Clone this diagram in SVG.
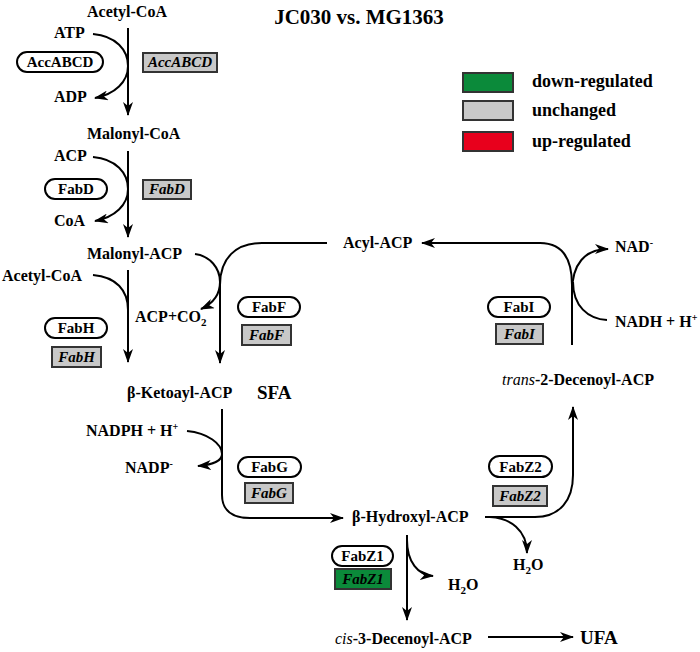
<svg xmlns="http://www.w3.org/2000/svg" width="700" height="652" viewBox="0 0 700 652">
<defs>
<marker id="ah" viewBox="0 0 14 10" refX="13" refY="5" markerWidth="14" markerHeight="10" orient="auto" markerUnits="userSpaceOnUse"><path d="M0,0 L14,5 L0,10 L4,5 z" fill="#000"/></marker>
<style>
text{font-family:"Liberation Serif","Times New Roman",serif;font-weight:bold;fill:#000;font-size:16px}
.t{font-size:21px}
.big{font-size:19px}
.leg{font-size:18px}
.en{font-size:15px}
.it{font-style:italic;font-size:15px}
.pill{fill:#fff;stroke:#000;stroke-width:2}
.box{fill:#c8c8c8;stroke:#333;stroke-width:2}
.down{fill:#0b8a3a;stroke:#333;stroke-width:2}
.up{fill:#e8001c;stroke:#333;stroke-width:2}
.c{fill:none;stroke:#000;stroke-width:2}
.a{marker-end:url(#ah)}
</style>
</defs>
<rect width="700" height="652" fill="#fff"/>
<g id="title"><text class="t" x="359" y="24" text-anchor="middle">JC030 vs. MG1363</text></g>
<g id="legend">
<rect class="down" x="463" y="73" width="50" height="19"/><text class="leg" x="532" y="87">down-regulated</text>
<rect class="box" x="463" y="101" width="50" height="19"/><text class="leg" x="532" y="116">unchanged</text>
<rect class="up" x="463" y="132" width="50" height="19"/><text class="leg" x="532" y="147">up-regulated</text>
</g>
<g id="connectors">
<path class="c a" d="M128,28 V115"/>
<path class="c a" d="M93,34 C116,36 128,50 128,66 C128,82 115,94 95,98"/>
<path class="c a" d="M128,151 V237"/>
<path class="c a" d="M93,157 C116,159 128,173 128,189 C128,205 115,217 95,221"/>
<path class="c a" d="M128,270 V362"/>
<path class="c" d="M93,275 C116,277 128,290 128,310"/>
<path class="c a" d="M195,254 C210,256 220,268 220,282 C220,296 212,304 201,309"/>
<path class="c a" d="M327,243 H262 C236,243 220,258 220,285 V363"/>
<path class="c a" d="M222,409 V495 C222,510 232,518 250,518 H343"/>
<path class="c a" d="M187,431 C208,433 222,444 222,454 C222,461 212,465 198,466"/>
<path class="c a" d="M485,517 H535 C560,517 573,500 573,475 V407"/>
<path class="c a" d="M490,517 C510,518 527,530 527,553"/>
<path class="c a" d="M407,535 V620"/>
<path class="c a" d="M407,540 C407,562 418,575 433,576"/>
<path class="c a" d="M488,637 H573"/>
<path class="c a" d="M572,345 V285 C572,258 562,243 540,243 H422"/>
<path class="c a" d="M572,292 C572,264 585,249 608,249"/>
<path class="c" d="M607,320 C588,319 573,306 573,282"/>
</g>
<g id="acetyl-coa"><text x="87" y="17">Acetyl-CoA</text></g>
<g id="atp"><text x="54" y="38">ATP</text></g>
<g id="adp"><text x="54" y="102">ADP</text></g>
<g id="accabcd"><rect class="pill" x="17" y="52" width="86" height="20" rx="10"/><text class="en" x="60" y="67" text-anchor="middle">AccABCD</text></g>
<g id="accabcd-gene"><rect class="box" x="143" y="53" width="74" height="19"/><text class="it" x="180" y="67" text-anchor="middle">AccABCD</text></g>
<g id="malonyl-coa"><text x="87" y="139">Malonyl-CoA</text></g>
<g id="acp"><text x="54" y="161">ACP</text></g>
<g id="coa"><text x="54" y="226">CoA</text></g>
<g id="fabd"><rect class="pill" x="45" y="179" width="62" height="20" rx="10"/><text class="en" x="76" y="194" text-anchor="middle">FabD</text></g>
<g id="fabd-gene"><rect class="box" x="143" y="180" width="48" height="19"/><text class="it" x="167" y="194" text-anchor="middle">FabD</text></g>
<g id="malonyl-acp"><text x="87" y="259">Malonyl-ACP</text></g>
<g id="acetyl-coa-2"><text x="2" y="281">Acetyl-CoA</text></g>
<g id="acp-co2"><text x="135" y="322">ACP+CO<tspan font-size="11" dy="4">2</tspan></text></g>
<g id="fabh"><rect class="pill" x="45" y="318" width="62" height="20" rx="10"/><text class="en" x="76" y="333" text-anchor="middle">FabH</text></g>
<g id="fabh-gene"><rect class="box" x="52" y="347" width="49" height="20"/><text class="it" x="76.5" y="362" text-anchor="middle">FabH</text></g>
<g id="fabf"><rect class="pill" x="238" y="297" width="62" height="20" rx="10"/><text class="en" x="269" y="312" text-anchor="middle">FabF</text></g>
<g id="fabf-gene"><rect class="box" x="242" y="325" width="49" height="20"/><text class="it" x="266.5" y="340" text-anchor="middle">FabF</text></g>
<g id="acyl-acp"><text x="343" y="248">Acyl-ACP</text></g>
<g id="nad"><text x="615" y="252">NAD<tspan font-size="10" dy="-6">-</tspan></text></g>
<g id="nadh"><text x="615" y="327">NADH + H<tspan font-size="10" dy="-6">+</tspan></text></g>
<g id="fabi"><rect class="pill" x="488" y="297" width="62" height="20" rx="10"/><text class="en" x="519" y="312" text-anchor="middle">FabI</text></g>
<g id="fabi-gene"><rect class="box" x="496" y="324" width="47" height="20"/><text class="it" x="519.5" y="339" text-anchor="middle">FabI</text></g>
<g id="trans-decenoyl"><text x="502" y="385"><tspan font-style="italic" font-weight="normal">trans</tspan>-2-Decenoyl-ACP</text></g>
<g id="ketoacyl"><text x="127" y="398">β-Ketoayl-ACP</text></g>
<g id="sfa"><text class="big" x="257" y="399">SFA</text></g>
<g id="nadph"><text x="86" y="436">NADPH + H<tspan font-size="10" dy="-6">+</tspan></text></g>
<g id="nadp"><text x="125" y="473">NADP<tspan font-size="10" dy="-6">-</tspan></text></g>
<g id="fabg"><rect class="pill" x="238" y="457" width="63" height="20" rx="10"/><text class="en" x="269.5" y="472" text-anchor="middle">FabG</text></g>
<g id="fabg-gene"><rect class="box" x="245" y="483" width="48" height="20"/><text class="it" x="269" y="498" text-anchor="middle">FabG</text></g>
<g id="fabz2"><rect class="pill" x="489" y="456" width="63" height="21" rx="10.5"/><text class="en" x="520.5" y="472" text-anchor="middle">FabZ2</text></g>
<g id="fabz2-gene"><rect class="box" x="493" y="486" width="54" height="20"/><text class="it" x="520" y="501" text-anchor="middle">FabZ2</text></g>
<g id="hydroxyacyl"><text x="352" y="522">β-Hydroxyl-ACP</text></g>
<g id="h2o-1"><text x="513" y="570">H<tspan font-size="11" dy="4">2</tspan><tspan dy="-4">O</tspan></text></g>
<g id="fabz1"><rect class="pill" x="332" y="546" width="61" height="20" rx="10"/><text class="en" x="362.5" y="561" text-anchor="middle">FabZ1</text></g>
<g id="fabz1-gene"><rect class="down" x="335" y="569" width="56" height="20"/><text class="it" x="363" y="584" text-anchor="middle">FabZ1</text></g>
<g id="h2o-2"><text x="448" y="590">H<tspan font-size="11" dy="4">2</tspan><tspan dy="-4">O</tspan></text></g>
<g id="cis-decenoyl"><text x="335" y="644"><tspan font-style="italic" font-weight="normal">cis</tspan>-3-Decenoyl-ACP</text></g>
<g id="ufa"><text class="big" x="580" y="644">UFA</text></g>
</svg>
